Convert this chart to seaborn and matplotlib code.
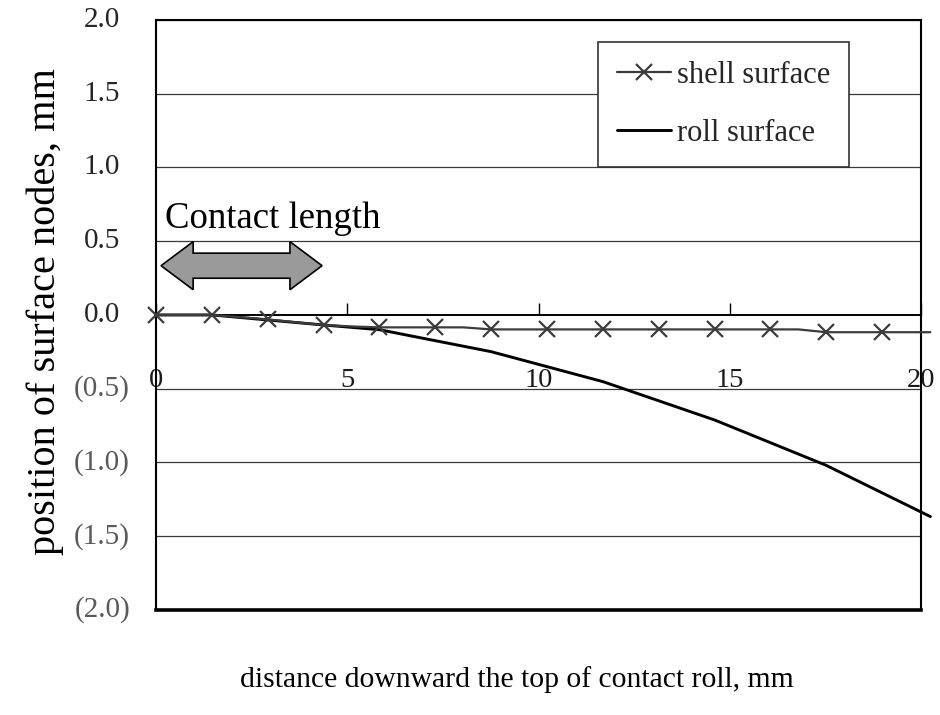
import matplotlib
matplotlib.use("Agg")
import matplotlib.pyplot as plt
import matplotlib.patches as mpatches
from matplotlib.transforms import ScaledTranslation
import seaborn as sns
import pandas as pd

# shell surface node positions (mm) along the roll
shell_x = [0.0, 0.73, 1.46, 2.19, 2.92, 3.65, 4.38, 5.11, 5.84, 6.57, 7.30, 8.03,
           8.76, 9.49, 10.22, 10.95, 11.68, 12.41, 13.14, 13.87, 14.60, 15.33,
           16.06, 16.79, 17.52, 18.25, 18.98, 20.24]
shell_y = [0.0, 0.0, 0.0, -0.015, -0.030, -0.050, -0.068, -0.078, -0.084, -0.084,
           -0.084, -0.084, -0.098, -0.098, -0.098, -0.098, -0.098, -0.098, -0.098,
           -0.098, -0.098, -0.098, -0.098, -0.098, -0.117, -0.117, -0.117, -0.117]
shell_marker_idx = [0, 2, 4, 6, 8, 10, 12, 14, 16, 18, 20, 22, 24, 26]

# roll surface profile (mm)
roll_x = [0.0, 1.46, 2.92, 4.38, 5.84, 8.76, 11.68, 14.60, 17.52, 20.24]
roll_y = [0.0, 0.0, -0.034, -0.068, -0.100, -0.249, -0.452, -0.712, -1.020, -1.367]

x_ticks = [0, 5, 10, 15, 20]
x_tick_labels = ["0", "5", "10", "15", "20"]
y_ticks = [2.0, 1.5, 1.0, 0.5, 0.0, -0.5, -1.0, -1.5, -2.0]
y_tick_labels = ["2.0", "1.5", "1.0", "0.5", "0.0", "(0.5)", "(1.0)", "(1.5)", "(2.0)"]

contact_start, contact_end = 0.13, 4.34

shell_df = pd.DataFrame({"x": shell_x, "y": shell_y})
roll_df = pd.DataFrame({"x": roll_x, "y": roll_y})

sns.set_theme(style="white")
plt.rcParams["font.family"] = ["Liberation Serif", "DejaVu Serif"]

fig = plt.figure(figsize=(9.4, 7.15), dpi=100)
ax = fig.add_axes([0.166, 0.1469, 0.814, 0.8252])

ax.set_xlim(0, 20)
ax.set_ylim(-2, 2)

# horizontal gridlines
for yv in y_ticks:
    if yv != 0.0:
        ax.axhline(yv, color="#3a3a3a", lw=0.9, zorder=1)

sns.lineplot(data=shell_df, x="x", y="y", ax=ax, color="#3c3c3c", lw=1.6,
             marker="x", markersize=11, markeredgewidth=1.6,
             markeredgecolor="#3c3c3c", markevery=shell_marker_idx,
             clip_on=False, label="shell surface", zorder=4, sort=False)
sns.lineplot(data=roll_df, x="x", y="y", ax=ax, color="black", lw=2.1,
             clip_on=False, label="roll surface", zorder=3, sort=False)

ax.set_xlabel("")
ax.set_ylabel("")
ax.set_xticks([])
ax.set_yticks([])

for side, sp in ax.spines.items():
    sp.set_visible(True)
    sp.set_color("black")
    sp.set_linewidth(1.5)
ax.spines["bottom"].set_linewidth(2.6)

# x axis crossing at y = 0, labels hanging below it
sec = ax.secondary_xaxis(0.5)
sec.set_alignment("bottom")
sec.set_xticks(x_ticks)
sec.set_xticklabels(x_tick_labels)
sec.tick_params(axis="x", direction="in", length=9, width=1.0, color="black",
                labelsize=20.5, pad=38, labelcolor="#1a1a1a")
for s in ("bottom", "top"):
    sec.spines[s].set_linewidth(1.4)
    sec.spines[s].set_color("black")

# y tick labels, negatives in parentheses
ytrans = ax.get_yaxis_transform()
for yv, lab in zip(y_ticks, y_tick_labels):
    neg = yv < 0
    off = -26 if neg else -36
    t = ytrans + ScaledTranslation(off / 100, 0, fig.dpi_scale_trans)
    ax.text(0, yv, lab, transform=t, ha="right", va="center", fontsize=21,
            color="#5a5a5a" if neg else "#262626", clip_on=False)

# double arrow marking the contact length
yc, head_len, shaft_h, head_h = 0.334, 0.84, 0.085, 0.163
pts = [
    (contact_start, yc),
    (contact_start + head_len, yc + head_h),
    (contact_start + head_len, yc + shaft_h),
    (contact_end - head_len, yc + shaft_h),
    (contact_end - head_len, yc + head_h),
    (contact_end, yc),
    (contact_end - head_len, yc - head_h),
    (contact_end - head_len, yc - shaft_h),
    (contact_start + head_len, yc - shaft_h),
    (contact_start + head_len, yc - head_h),
]
ax.add_patch(mpatches.Polygon(pts, closed=True, facecolor="#9a9a9a",
                              edgecolor="black", lw=1.2, zorder=5))
ax.text(0.235, 0.59, "Contact length", fontsize=26.5, ha="left", va="baseline",
        color="black", zorder=6)

leg = ax.legend(loc="upper left", bbox_to_anchor=(0.578, 0.963), frameon=True,
                fancybox=False, edgecolor="#333333", framealpha=1, fontsize=22,
                handlelength=1.75, handletextpad=0.2, labelspacing=0.95,
                borderpad=0.62, borderaxespad=0)
leg.get_frame().set_linewidth(1.2)
leg.set_zorder(10)

fig.text(517 / 940, 1 - 680 / 715, "distance downward the top of contact roll, mm",
         ha="center", va="center", fontsize=21.3, color="black")
fig.text(45 / 940, 1 - 312 / 715, "position of surface nodes, mm", rotation=90,
         ha="center", va="center", fontsize=29, color="black")

fig.savefig("out.png", dpi=100, facecolor="white")
